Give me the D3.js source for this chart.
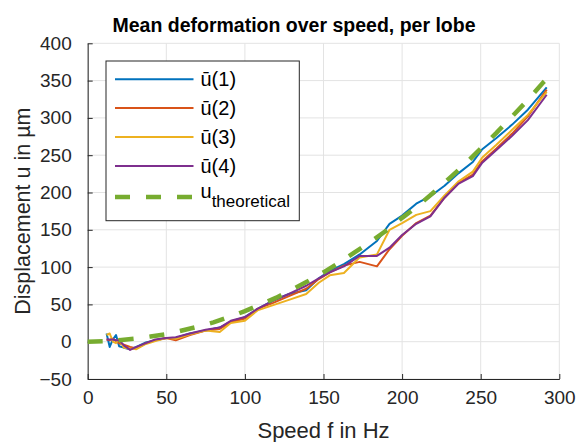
<!DOCTYPE html>
<html><head><meta charset="utf-8">
<script src="https://cdn.jsdelivr.net/npm/d3@7/dist/d3.min.js"></script>
<style>
html,body{margin:0;padding:0;background:#fff;}
svg{display:block;font-family:"Liberation Sans",Arial,Helvetica,sans-serif;}
</style></head>
<body>
<svg id="chart" width="577" height="442"></svg>
<script>
// ---- data ----
const speeds = [12, 14, 16, 18, 20, 23, 27, 31, 37, 43, 50, 56, 65, 75, 84, 91, 100, 108, 118, 128, 139, 147, 154, 163, 173, 184, 192, 200, 209, 218, 227, 236, 245, 251, 260, 270, 280, 292];
const u1 = [11, -7, 3, 9, -6, -8, -10, -7, -1, 2, 5, 5, 11, 15, 19, 27, 33, 44, 55, 64, 69, 85, 95, 104, 117, 135, 158, 169, 185, 195, 209, 226, 241, 258, 273, 291, 311, 341];
const u2 = [3, 2, 4, 1, -2, -4, -7, -9, -2, 2, 5, 2, 9, 15, 17, 26, 31, 44, 52, 61, 71, 84, 93, 102, 107, 101, 124, 142, 159, 169, 193, 213, 224, 242, 259, 279, 302, 338];
const u3 = [9, 11, 0, -2, 4, -8, -9, -10, -3, 1, 5, 4, 10, 15, 13, 25, 28, 42, 49, 56, 64, 79, 89, 92, 113, 117, 150, 159, 170, 175, 196, 215, 228, 247, 264, 284, 304, 335];
const u4 = [3, 3, 3, 2, 2, -5, -11, -7, -2, 3, 5, 6, 11, 16, 19, 28, 33, 44, 55, 64, 75, 85, 93, 101, 115, 115, 126, 143, 158, 168, 193, 212, 222, 240, 257, 276, 297, 331];
const theoSpeeds = [0, 10, 20, 30, 40, 50, 60, 70, 80, 90, 100, 110, 120, 130, 140, 150, 160, 170, 180, 190, 200, 210, 220, 230, 240, 250, 260, 270, 280, 290, 297];
const uTheo = [0, 0.5, 2, 4, 7, 10, 15, 20, 26, 33, 41, 50, 59, 70, 81, 93, 106, 120, 134, 149, 166, 182, 200, 219, 238, 259, 280, 302, 324, 348, 362];
const seriesLabels = ["ū(1)", "ū(2)", "ū(3)", "ū(4)"];
const seriesColors = ["#0072BD", "#D95319", "#EDB120", "#7E2F8E"];
const theoColor = "#77AC30";
const xTicks = [0, 50, 100, 150, 200, 250, 300];
const yTicks = [-50, 0, 50, 100, 150, 200, 250, 300, 350, 400];
const titleText = "Mean deformation over speed, per lobe";
const xLabelText = "Speed f in Hz";
const yLabelText = "Displacement u in µm";

// ---- layout ----
const svg = d3.select("#chart");
const L = 87.7, R = 559.3, T = 43.3, B = 379;
const x = d3.scaleLinear().domain([0, 300]).range([L, R]);
const y = d3.scaleLinear().domain([-50, 400]).range([B, T]);
const axisColor = "#262626";
const tickFont = 19;

// grid
const grid = svg.append("g");
grid.selectAll("line.gx").data(xTicks).enter().append("line")
  .attr("x1", d => x(d)).attr("x2", d => x(d)).attr("y1", T).attr("y2", B)
  .attr("stroke", "#e3e3e3").attr("stroke-width", 1);
grid.selectAll("line.gy").data(yTicks).enter().append("line")
  .attr("x1", L).attr("x2", R).attr("y1", d => y(d)).attr("y2", d => y(d))
  .attr("stroke", "#e3e3e3").attr("stroke-width", 1);

// axes
const xAxis = d3.axisBottom(x).tickValues(xTicks).tickSizeInner(-5).tickSizeOuter(0).tickPadding(12)
  .tickFormat(d => String(d));
const gx = svg.append("g").attr("transform", `translate(0,${B})`).call(xAxis);
gx.select(".domain").attr("stroke", axisColor).attr("stroke-width", 1);
gx.selectAll(".tick line").attr("stroke", axisColor);
gx.selectAll(".tick text").attr("fill", axisColor).attr("font-size", tickFont)
  .attr("font-family", "Liberation Sans, Arial, sans-serif");

const yAxis = d3.axisLeft(y).tickValues(yTicks).tickSizeInner(-5).tickSizeOuter(0).tickPadding(16)
  .tickFormat(d => d < 0 ? "\u2212" + Math.abs(d) : String(d));
const gy = svg.append("g").attr("transform", `translate(${L},0)`).call(yAxis);
gy.select(".domain").attr("stroke", axisColor).attr("stroke-width", 1);
gy.selectAll(".tick line").attr("stroke", axisColor);
gy.selectAll(".tick text").attr("fill", axisColor).attr("font-size", tickFont)
  .attr("font-family", "Liberation Sans, Arial, sans-serif");

// lines
const line = d3.line().x(d => x(d[0])).y(d => y(d[1]));
const seriesData = [u1, u2, u3, u4];
seriesData.forEach((vals, i) => {
  svg.append("path").datum(speeds.map((s, j) => [s, vals[j]]))
    .attr("d", line).attr("fill", "none").attr("stroke", seriesColors[i])
    .attr("stroke-width", 2).attr("stroke-linejoin", "round");
});
svg.append("path").datum(theoSpeeds.map((s, j) => [s, uTheo[j]]))
  .attr("d", line).attr("fill", "none").attr("stroke", theoColor)
  .attr("stroke-width", 4.5).attr("stroke-dasharray", "15,16");

// title & labels
svg.append("text").attr("x", 294).attr("y", 32).attr("text-anchor", "middle")
  .attr("font-size", 19.5).attr("font-weight", "bold").attr("fill", "#000").text(titleText);
svg.append("text").attr("x", (L + R) / 2).attr("y", 438).attr("text-anchor", "middle")
  .attr("font-size", 22).attr("fill", axisColor).text(xLabelText);
svg.append("text").attr("transform", `translate(30,${(T + B) / 2}) rotate(-90)`)
  .attr("text-anchor", "middle").attr("font-size", 21.5).attr("fill", axisColor).text(yLabelText);

// legend
const lg = svg.append("g");
lg.append("rect").attr("x", 106).attr("y", 61).attr("width", 193.3).attr("height", 159.7)
  .attr("fill", "#fff").attr("stroke", axisColor).attr("stroke-width", 1);
const rowY = [79.3, 108, 137, 166, 197];
const legFont = 20;
seriesLabels.forEach((lab, i) => {
  lg.append("line").attr("x1", 115).attr("x2", 193.5).attr("y1", rowY[i]).attr("y2", rowY[i])
    .attr("stroke", seriesColors[i]).attr("stroke-width", 2);
  lg.append("text").attr("x", 200.5).attr("y", rowY[i] + 7).attr("font-size", legFont)
    .attr("fill", "#000").text(lab);
});
lg.append("line").attr("x1", 115).attr("x2", 193.5).attr("y1", rowY[4]).attr("y2", rowY[4])
  .attr("stroke", theoColor).attr("stroke-width", 4.5).attr("stroke-dasharray", "15,16");
const tt = lg.append("text").attr("x", 200.5).attr("y", rowY[4] + 1).attr("font-size", legFont).attr("fill", "#000");
tt.append("tspan").text("u");
tt.append("tspan").attr("dy", 9).attr("font-size", 17).text("theoretical");
</script>
</body></html>
